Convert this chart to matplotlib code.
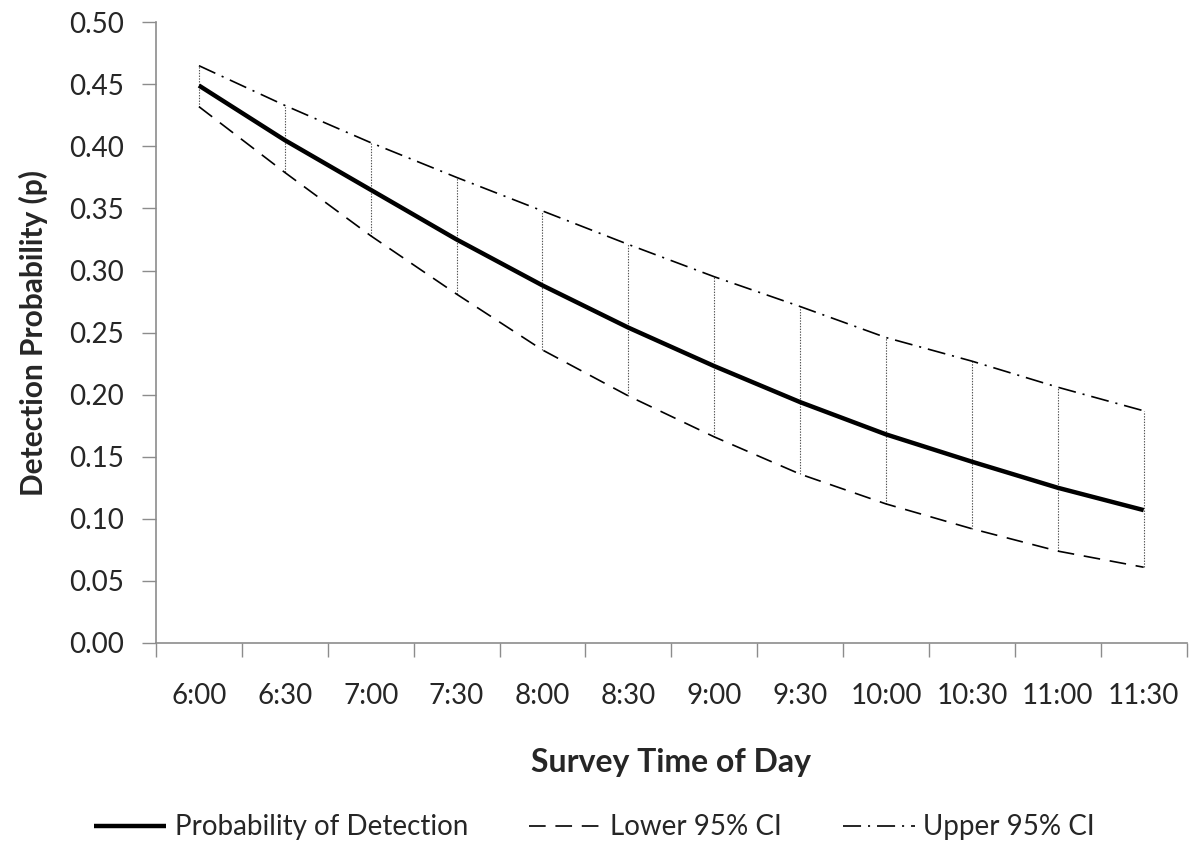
import matplotlib
matplotlib.use("Agg")
import matplotlib.pyplot as plt
import numpy as np

# data
times = ["6:00", "6:30", "7:00", "7:30", "8:00", "8:30",
         "9:00", "9:30", "10:00", "10:30", "11:00", "11:30"]
p_detect = [0.449, 0.405, 0.365, 0.325, 0.288, 0.254,
            0.223, 0.194, 0.168, 0.146, 0.125, 0.107]
lower_ci = [0.432, 0.379, 0.328, 0.281, 0.236, 0.199,
            0.166, 0.136, 0.112, 0.092, 0.074, 0.061]
upper_ci = [0.465, 0.433, 0.403, 0.375, 0.348, 0.321,
            0.295, 0.271, 0.246, 0.227, 0.206, 0.187]
y_ticks = [0.00, 0.05, 0.10, 0.15, 0.20, 0.25, 0.30, 0.35, 0.40, 0.45, 0.50]

plt.rcParams['font.family'] = ['Lato', 'DejaVu Sans']
plt.rcParams['lines.scale_dashes'] = False

text_col = '#262626'
axis_col = '#8c8c8c'

fig = plt.figure(figsize=(11.89, 8.55), dpi=100)
ax = fig.add_axes([0.1312, 0.248, 0.8668, 0.726])

x = np.arange(len(times))

# high-low lines
ax.vlines(x, lower_ci, upper_ci, colors='#555555', linestyles=(0, (1, 1)),
          linewidth=0.8, zorder=1)

ax.plot(x, p_detect, color='black', linewidth=3.2, solid_capstyle='butt',
        label='Probability of Detection', zorder=3)
ax.plot(x, lower_ci, color='black', linewidth=1.2, dashes=(12, 7),
        label='Lower 95% CI', zorder=2)
ax.plot(x, upper_ci, color='black', linewidth=1.2, dashes=(13, 5, 1.5, 5),
        label='Upper 95% CI', zorder=2)

ax.set_xlim(-0.5, len(times) - 0.5)
ax.set_ylim(0, 0.5)
ax.set_yticks(y_ticks)
ax.set_yticklabels([f'{v:.2f}' for v in y_ticks])

# category boundaries get the tick marks, labels sit in the middle
ax.set_xticks(np.arange(len(times) + 1) - 0.5)
ax.set_xticklabels([])
ax.set_xticks(x, minor=True)
ax.set_xticklabels(times, minor=True)
ax.tick_params(axis='x', which='major', length=10, width=1, color=axis_col)
ax.tick_params(axis='x', which='minor', length=0, pad=29,
               labelsize=20, labelcolor=text_col)
ax.tick_params(axis='y', length=10, width=1, color=axis_col, pad=13,
               labelsize=20, labelcolor=text_col)

for side in ['top', 'right']:
    ax.spines[side].set_visible(False)
for side in ['left', 'bottom']:
    ax.spines[side].set_color(axis_col)
    ax.spines[side].set_linewidth(1.2)

ax.set_ylabel('Detection Probability (p)', fontsize=21.5, fontweight='bold',
              color=text_col)
ax.yaxis.set_label_coords(-0.105, 0.5)
ax.set_xlabel('Survey Time of Day', fontsize=23, fontweight='bold',
              color=text_col, labelpad=28)

fig.legend(loc='lower center', bbox_to_anchor=(0.5, -0.012), ncol=3,
           frameon=False, fontsize=20, handlelength=2.6, handletextpad=0.3,
           columnspacing=2.2, labelcolor=text_col)

fig.savefig('out.png', dpi=100, facecolor='white')
